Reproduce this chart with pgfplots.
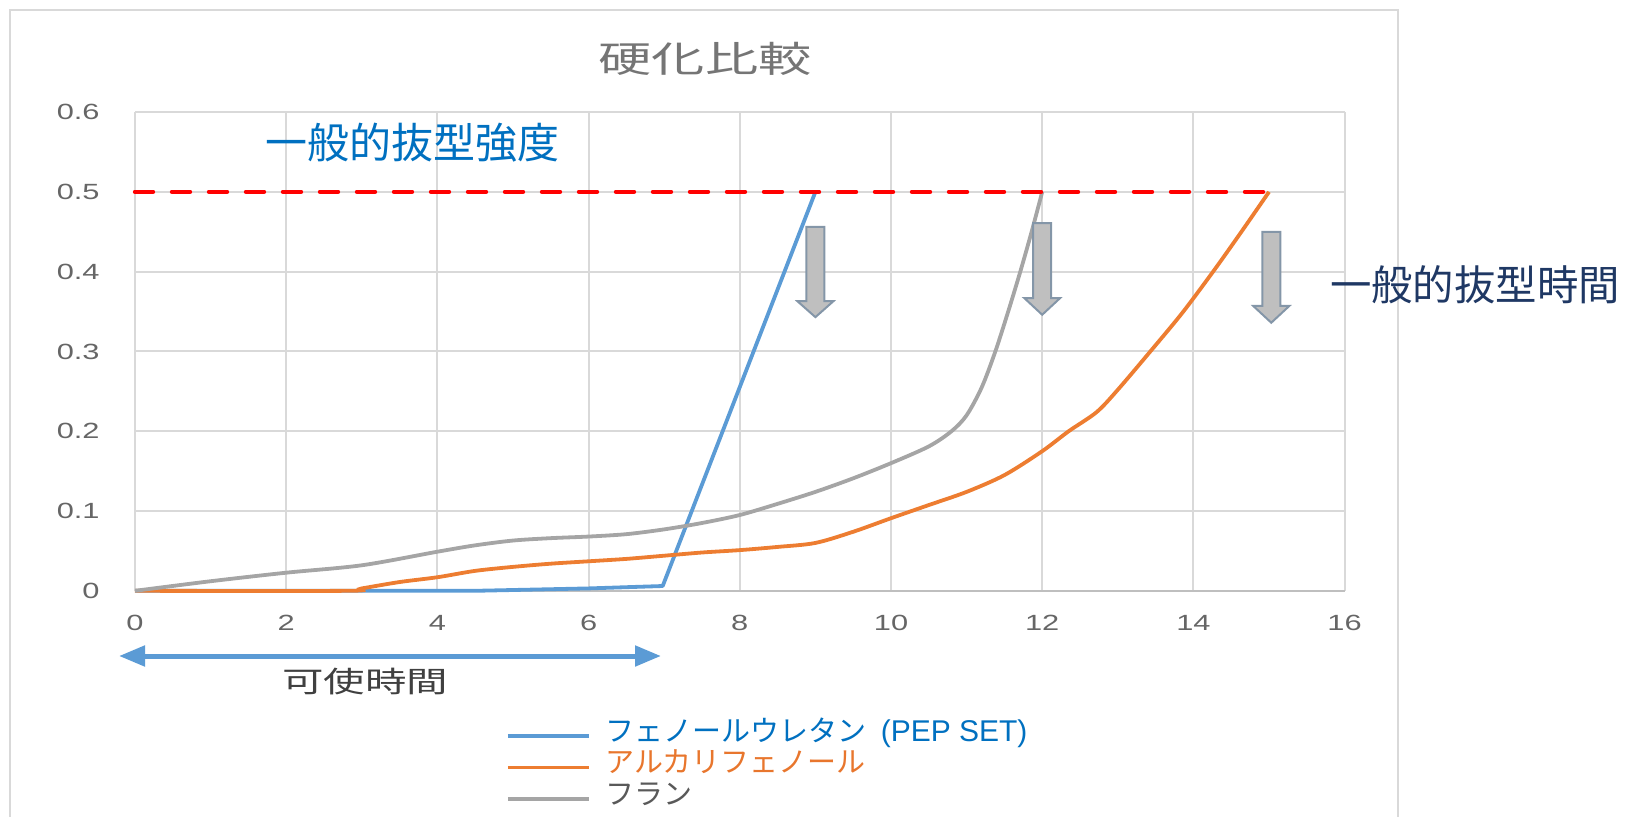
\documentclass[border=0pt]{standalone}
\usepackage{graphicx}
\usepackage{pgfplots}
\pgfplotsset{compat=1.18}
\usepackage{fontspec}
\setmainfont{Noto Sans CJK JP}
\newfontfamily\latinfont{Liberation Sans}
\usetikzlibrary{arrows.meta}

\definecolor{lineblue}{HTML}{5B9BD5}
\definecolor{lineorange}{HTML}{ED7D31}
\definecolor{linegray}{HTML}{A5A5A5}
\definecolor{textblue}{HTML}{0070C0}
\definecolor{textorange}{HTML}{E8762D}
\definecolor{textgray}{HTML}{595959}
\definecolor{navy}{HTML}{1F3864}
\definecolor{gridgray}{HTML}{D9D9D9}
\definecolor{axisgray}{HTML}{BFBFBF}
\definecolor{tickgray}{HTML}{666666}
\definecolor{titlegray}{HTML}{757575}
\definecolor{arrowfill}{HTML}{BFBFBF}
\definecolor{arrowedge}{HTML}{8496A8}

% Excel-style wide numerals
\newcommand\wide[1]{\scalebox{1.4}[1]{#1}}

% block arrow pointing down: x, y of shaft top, y of head base, y of tip
\newcommand\blockarrow[4]{%
  \draw[arrowedge, fill=arrowfill, line width=1pt, line join=miter]
    ([xshift=-4.5pt]axis cs:#1,#2) -- ([xshift=4.5pt]axis cs:#1,#2)
    -- ([xshift=4.5pt]axis cs:#1,#3) -- ([xshift=9pt]axis cs:#1,#3)
    -- (axis cs:#1,#4) -- ([xshift=-9pt]axis cs:#1,#3)
    -- ([xshift=-4.5pt]axis cs:#1,#3) -- cycle;}

\begin{document}
\begin{tikzpicture}
\path[use as bounding box] (0,0) rectangle (814pt,408pt);
\draw[gridgray, line width=1pt] (5pt,-2pt) -- (5pt,403pt) -- (699pt,403pt) -- (699pt,-2pt);

\begin{axis}[
  at={(67.5pt,112.6pt)}, anchor=south west,
  scale only axis, width=604.8pt, height=239.35pt,
  xmin=0, xmax=16, ymin=0, ymax=0.6,
  xtick={0,2,4,6,8,10,12,14,16},
  ytick={0,0.1,0.2,0.3,0.4,0.5,0.6},
  xticklabels={\wide{0},\wide{2},\wide{4},\wide{6},\wide{8},\wide{10},\wide{12},\wide{14},\wide{16}},
  yticklabels={\wide{0},\wide{0.1},\wide{0.2},\wide{0.3},\wide{0.4},\wide{0.5},\wide{0.6}},
  grid=major, major grid style={gridgray, line width=1pt},
  axis x line*=bottom, axis y line*=left,
  x axis line style={axisgray, line width=1pt, -},
  y axis line style={gridgray, line width=1pt, -},
  major tick length=0pt, tick style={draw=none},
  xticklabel style={anchor=center, inner sep=0pt, yshift=-16pt,
    font=\latinfont\fontsize{11}{12}\selectfont, text=tickgray},
  yticklabel style={anchor=east, inner sep=0pt, xshift=-17.5pt,
    font=\latinfont\fontsize{11}{12}\selectfont, text=tickgray},
  clip=false,
  legend style={draw=none, fill=none, at={(0.3067,-0.27)}, anchor=north west,
    inner sep=0pt, outer sep=0pt, row sep=0pt,
    font=\fontsize{14.5}{16}\selectfont,
    nodes={inner sep=0pt, text height=10.5pt, text depth=5.3pt},
    /tikz/every odd column/.append style={column sep=7.5pt}},
  legend cell align=left,
  legend image code/.code={\draw[#1] (0pt,0pt) -- (40.5pt,0pt);},
]
% phenol urethane (PEP SET)
\addplot[lineblue, line width=1.9pt, line join=round] coordinates {
  (0,0) (4.5,0) (5,0.001) (6,0.003) (6.98,0.006) (9,0.5)};
\addlegendentry{\textcolor{textblue}{フェノールウレタン\hspace{7pt}{\latinfont\fontsize{15}{16}\selectfont (PEP SET)}}}
% alkaline phenol
\addplot[lineorange, line width=1.9pt, smooth, tension=0.5] coordinates {
  (0,0) (2.8,0) (3,0.003) (3.5,0.011) (4,0.017) (4.5,0.025) (5,0.030)
  (5.5,0.034) (6,0.037) (6.5,0.040) (7,0.044) (7.5,0.048) (8,0.051)
  (8.5,0.055) (9,0.060) (9.5,0.074) (10,0.091) (10.5,0.1075) (11,0.124)
  (11.5,0.145) (12,0.175) (12.35,0.2) (12.72,0.224) (13,0.252) (13.43,0.3)
  (13.85,0.348) (14.26,0.4) (14.62,0.448) (15,0.5)};
\addlegendentry{\textcolor{textorange}{アルカリフェノール}}
% furan
\addplot[linegray, line width=1.9pt, smooth, tension=0.5] coordinates {
  (0,0) (1,0.012) (2,0.0227) (3,0.032) (4,0.049) (4.5,0.057) (5,0.063)
  (5.5,0.066) (6,0.068) (6.5,0.071) (7,0.077) (7.5,0.085) (8,0.095)
  (8.5,0.109) (9,0.124) (9.5,0.141) (10,0.160) (10.5,0.181) (10.8,0.2)
  (11,0.22) (11.2,0.255) (11.38,0.3) (11.55,0.35) (11.71,0.4) (11.86,0.45)
  (12,0.5)};
\addlegendentry{\textcolor{textgray}{フラン}}
% common stripping strength
\addplot[red, line width=2.2pt, line cap=round, dash pattern=on 9pt off 9.5pt, forget plot]
  coordinates {(0,0.5) (15,0.5)};

\blockarrow{9}{0.456}{0.363}{0.343}
\blockarrow{12}{0.461}{0.367}{0.346}
\blockarrow{15.03}{0.450}{0.357}{0.336}
\end{axis}

\node[text=titlegray, font=\fontsize{18}{20}\selectfont, inner sep=0pt]
  at (352.5pt,378.5pt) {\scalebox{1.48}[1]{硬化比較}};
\node[text=textblue, font=\fontsize{21}{24}\selectfont, inner sep=0pt]
  at (206pt,336.5pt) {一般的抜型強度};
\node[text=navy, font=\fontsize{20.7}{24}\selectfont, inner sep=0pt]
  at (737.5pt,265.75pt) {一般的抜型時間};
\draw[lineblue, line width=2.5pt, {Triangle[length=13pt,width=10pt]}-{Triangle[length=13pt,width=10pt]}]
  (59.5pt,80pt) -- (330.5pt,80pt);
\node[text=black!75, font=\fontsize{14.5}{16}\selectfont, inner sep=0pt]
  at (182.5pt,67pt) {\scalebox{1.43}[1]{可使時間}};
\end{tikzpicture}
\end{document}
